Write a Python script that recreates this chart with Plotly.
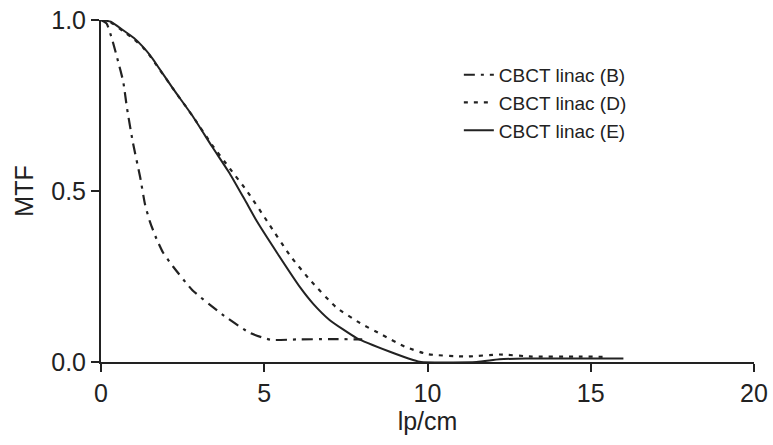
import plotly.graph_objects as go

# Curve B (CBCT linac B)
B_x = [0, 0.17, 0.35, 0.52, 0.68, 0.8, 0.98, 1.2, 1.35, 1.5, 1.7, 1.9, 2.2, 2.8, 3.7, 4.56, 5.2, 6.0, 7.0, 8.0]
B_y = [1.0, 0.99, 0.94, 0.88, 0.82, 0.74, 0.64, 0.54, 0.46, 0.41, 0.36, 0.32, 0.28, 0.21, 0.14, 0.085, 0.065, 0.066, 0.067, 0.066]

# Curve D (CBCT linac D)
D_x = [0, 0.3, 0.68, 1.0, 1.3, 1.5, 1.7, 2.2, 2.8, 3.4, 3.95, 4.47, 5.1, 5.8, 6.4, 7.2, 7.93, 8.6, 9.3, 10, 11.2, 12.2, 13.2, 14.5, 15.5]
D_y = [1.0, 0.993, 0.967, 0.945, 0.918, 0.895, 0.868, 0.80, 0.72, 0.635, 0.565, 0.50, 0.41, 0.31, 0.24, 0.16, 0.114, 0.08, 0.045, 0.023, 0.016, 0.022, 0.016, 0.016, 0.015]

# Curve E (CBCT linac E)
E_x = [0, 0.3, 0.68, 1.0, 1.3, 1.5, 1.7, 2.2, 2.8, 3.4, 3.95, 4.4, 4.77, 5.4, 6.1, 6.5, 7.0, 7.83, 8.85, 9.56, 9.8, 11.5, 12.2, 13, 16]
E_y = [1.0, 0.995, 0.97, 0.948, 0.92, 0.897, 0.87, 0.80, 0.72, 0.63, 0.55, 0.475, 0.412, 0.318, 0.218, 0.17, 0.123, 0.07, 0.03, 0.006, 0.0, 0.0, 0.008, 0.01, 0.01]

names = ["CBCT linac (B)", "CBCT linac (D)", "CBCT linac (E)"]
x_ticks = [0, 5, 10, 15, 20]
y_ticks = [0.0, 0.5, 1.0]
y_tick_labels = ["0.0", "0.5", "1.0"]

ink = "#222"
fig = go.Figure()
fig.add_trace(go.Scatter(x=B_x, y=B_y, mode="lines", name=names[0],
                         line=dict(color=ink, width=2.2, dash="11px,6px,3px,6px", shape="spline", smoothing=0.5)))
fig.add_trace(go.Scatter(x=D_x, y=D_y, mode="lines", name=names[1],
                         line=dict(color=ink, width=2.2, dash="4px,6px", shape="spline", smoothing=0.5)))
fig.add_trace(go.Scatter(x=E_x, y=E_y, mode="lines", name=names[2],
                         line=dict(color=ink, width=2, shape="spline", smoothing=0.5)))

font_family = "Liberation Sans, Arial, sans-serif"
fig.update_layout(
    width=773, height=445,
    margin=dict(l=101, r=19, t=20, b=83),
    paper_bgcolor="white", plot_bgcolor="white",
    font=dict(family=font_family, color=ink, size=24),
    legend=dict(x=0.548, y=0.895, xanchor="left", yanchor="top",
                font=dict(size=19, color=ink), bgcolor="rgba(0,0,0,0)",
                tracegroupgap=0, itemwidth=30),
    showlegend=True,
)
fig.update_xaxes(range=[0, 20], tickvals=x_ticks, ticktext=[str(v) for v in x_ticks],
                 showgrid=False, zeroline=False, showline=True, linecolor=ink, linewidth=2,
                 ticks="outside", ticklen=8, tickwidth=2, tickcolor=ink, automargin=False,
                 tickfont=dict(size=25), title=dict(text="lp/cm", font=dict(size=25), standoff=6))
fig.update_yaxes(range=[0, 1.0], tickvals=y_ticks, ticktext=y_tick_labels,
                 showgrid=False, zeroline=False, showline=True, linecolor=ink, linewidth=2,
                 ticks="outside", ticklen=8, tickwidth=2, tickcolor=ink, automargin=False,
                 tickfont=dict(size=25), title=dict(text="MTF", font=dict(size=25), standoff=10))

fig.write_html("out.html", config={"displayModeBar": False},
               post_script="document.body.style.margin='0';document.body.style.overflow='hidden';")
